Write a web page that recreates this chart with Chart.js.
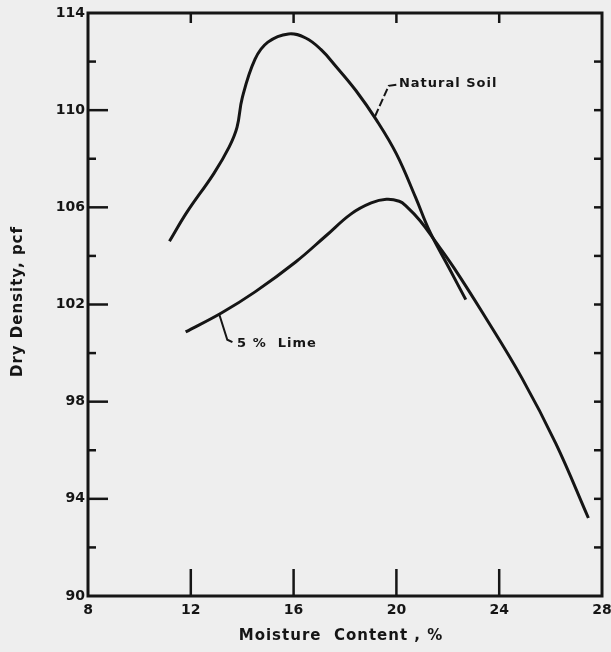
<!DOCTYPE html>
<html>
<head>
<meta charset="utf-8">
<script src="https://cdn.jsdelivr.net/npm/chart.js@4.4.0/dist/chart.umd.min.js"></script>
<style>
html, body { margin: 0; padding: 0; background: #eeeeee; }
#wrap { width: 611px; height: 652px; }
</style>
</head>
<body>
<div id="wrap"><canvas id="chart" width="611" height="652"></canvas></div>
<script>
// moisture content (%) vs dry density (pcf)
const naturalX = [11.17, 11.85, 12.9, 13.5, 13.8, 14.0, 14.5, 15.0, 15.8, 16.47, 17.06, 17.65, 18.43, 19.22, 20.0, 20.75, 21.3, 22.05, 22.7];
const naturalY = [104.6, 105.8, 107.4, 108.5, 109.3, 110.5, 112.1, 112.8, 113.14, 112.97, 112.5, 111.8, 110.8, 109.6, 108.2, 106.4, 105.0, 103.5, 102.2];
const limeX = [11.8, 13.19, 14.5, 16.08, 17.25, 18.24, 19.02, 19.61, 20.11, 20.37, 20.93, 21.5, 22.24, 23.36, 24.88, 26.21, 27.47];
const limeY = [100.87, 101.65, 102.52, 103.75, 104.82, 105.73, 106.18, 106.33, 106.25, 106.06, 105.44, 104.62, 103.51, 101.65, 98.98, 96.26, 93.21];

const xMajor = [12, 16, 20, 24];
const yMajor = [94, 98, 102, 106, 110];
const yMinor = [92, 96, 100, 104, 108, 112];

const FONT = '"DejaVu Sans", sans-serif';
const INK = '#151515';

function pts(xs, ys) {
    return xs.map((x, i) => ({ x: x, y: ys[i] }));
}

function seg(ctx, x1, y1, x2, y2) {
    ctx.beginPath();
    ctx.moveTo(x1, y1);
    ctx.lineTo(x2, y2);
    ctx.stroke();
}

const frame = {
    id: 'frame',
    beforeDraw(chart) {
        const ctx = chart.ctx;
        ctx.save();
        ctx.fillStyle = '#eeeeee';
        ctx.fillRect(0, 0, chart.width, chart.height);
        ctx.restore();
    },
    afterDatasetsDraw(chart) {
        const { ctx, chartArea: a, scales: { x, y } } = chart;
        ctx.save();
        ctx.strokeStyle = INK;
        ctx.lineWidth = 3;
        ctx.strokeRect(a.left, a.top, a.right - a.left, a.bottom - a.top);

        ctx.lineWidth = 2.5;
        yMajor.forEach(v => {
            const py = y.getPixelForValue(v);
            seg(ctx, a.left, py, a.left + 20, py);
        });
        yMinor.forEach(v => {
            const py = y.getPixelForValue(v);
            seg(ctx, a.left, py, a.left + 8, py);
        });
        yMajor.concat(yMinor).forEach(v => {
            const py = y.getPixelForValue(v);
            seg(ctx, a.right, py, a.right - 8, py);
        });
        xMajor.forEach(v => {
            const px = x.getPixelForValue(v);
            seg(ctx, px, a.top, px, a.top + 10);
            seg(ctx, px, a.bottom, px, a.bottom - 27);
        });

        // curve labels with leader lines
        ctx.lineWidth = 2;
        ctx.setLineDash([8, 3]);
        ctx.beginPath();
        ctx.moveTo(x.getPixelForValue(19.17), y.getPixelForValue(109.75));
        ctx.lineTo(x.getPixelForValue(19.7), y.getPixelForValue(111.0));
        ctx.lineTo(x.getPixelForValue(20.0), y.getPixelForValue(111.05));
        ctx.stroke();
        ctx.setLineDash([]);
        ctx.beginPath();
        ctx.moveTo(x.getPixelForValue(13.1), y.getPixelForValue(101.62));
        ctx.lineTo(x.getPixelForValue(13.42), y.getPixelForValue(100.55));
        ctx.lineTo(x.getPixelForValue(13.62), y.getPixelForValue(100.45));
        ctx.stroke();

        ctx.fillStyle = INK;
        ctx.font = 'bold 13px ' + FONT;
        ctx.textBaseline = 'middle';
        ctx.textAlign = 'left';
        ctx.letterSpacing = '1px';
        ctx.fillText('Natural Soil', x.getPixelForValue(20.1), y.getPixelForValue(111.1));
        ctx.fillText('5 %  Lime', x.getPixelForValue(13.8), y.getPixelForValue(100.4));

        // axis titles
        ctx.font = 'bold 15px ' + FONT;
        ctx.letterSpacing = '1px';
        ctx.textAlign = 'center';
        ctx.fillText('Moisture  Content , %', (a.left + a.right) / 2 - 4, 636);
        ctx.translate(18, (a.top + a.bottom) / 2 - 3);
        ctx.rotate(-Math.PI / 2);
        ctx.fillText('Dry Density, pcf', 0, 0);
        ctx.restore();
    }
};

const lineStyle = {
    borderColor: INK,
    borderWidth: 3,
    pointRadius: 0,
    fill: false,
    tension: 0.4
};

const tickFont = { family: FONT, weight: 'bold', size: 14 };

const chart = new Chart(document.getElementById('chart').getContext('2d'), {
    type: 'line',
    data: {
        datasets: [
            Object.assign({ label: 'Natural Soil', data: pts(naturalX, naturalY) }, lineStyle),
            Object.assign({ label: '5 % Lime', data: pts(limeX, limeY) }, lineStyle)
        ]
    },
    options: {
        responsive: false,
        animation: false,
        layout: { padding: { top: 13, right: 9, left: 0, bottom: 0 } },
        plugins: { legend: { display: false }, tooltip: { enabled: false } },
        scales: {
            x: {
                type: 'linear',
                min: 8, max: 28,
                grid: { display: false, drawTicks: false },
                border: { display: false },
                ticks: { stepSize: 4, padding: 6, color: INK, font: tickFont },
                afterFit: s => { s.height = 56; s.paddingLeft = 0; s.paddingRight = 0; }
            },
            y: {
                min: 90, max: 114,
                grid: { display: false, drawTicks: false },
                border: { display: false },
                ticks: { stepSize: 4, padding: 3, color: INK, font: tickFont },
                afterFit: s => { s.width = 88; s.paddingTop = 0; s.paddingBottom = 0; }
            }
        }
    },
    plugins: [frame]
});
</script>
</body>
</html>
